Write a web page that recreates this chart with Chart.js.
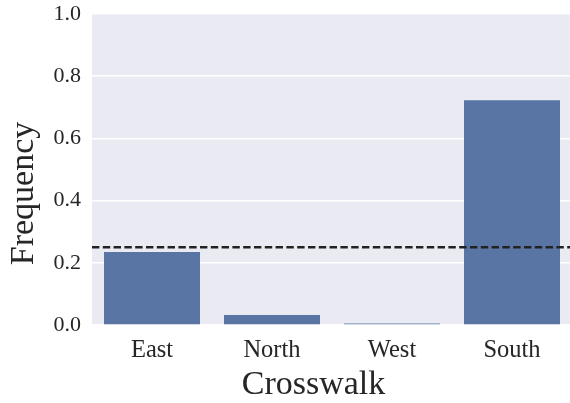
<!DOCTYPE html>
<html>
<head>
<meta charset="utf-8">
<script src="https://cdn.jsdelivr.net/npm/chart.js@4"></script>
<style>
  html, body { margin: 0; padding: 0; background: #ffffff; overflow: hidden; }
  #wrap { width: 570px; height: 403px; overflow: hidden; position: relative; }
  #chart { display: block; }
</style>
</head>
<body>
<div id="wrap"><canvas id="chart" width="572" height="403"></canvas></div>
<script>
// Share of choices per crosswalk, with the chance level (1 of 4) as a reference
const crosswalks = ['East', 'North', 'West', 'South'];
const frequency = [0.235, 0.032, 0.005, 0.723];
const chanceLevel = 0.25;
const yTicks = [0.0, 0.2, 0.4, 0.6, 0.8, 1.0];
const xTitle = 'Crosswalk';
const yTitle = 'Frequency';

const SERIF = '"Liberation Serif", "Times New Roman", serif';
const TEXT = '#262626';

// Dashed horizontal reference line across the plot area
const chanceLine = {
  id: 'chanceLine',
  afterDatasetsDraw(chart) {
    const { ctx, chartArea, scales } = chart;
    const y = scales.y.getPixelForValue(chanceLevel);
    ctx.save();
    ctx.strokeStyle = '#222222';
    ctx.lineWidth = 2.5;
    ctx.setLineDash([7.4, 3.4]);
    ctx.beginPath();
    ctx.moveTo(chartArea.left, y);
    ctx.lineTo(chartArea.right, y);
    ctx.stroke();
    ctx.restore();
  }
};

// Axis titles
const axisTitles = {
  id: 'axisTitles',
  afterDraw(chart) {
    const { ctx, chartArea } = chart;
    ctx.save();
    ctx.fillStyle = TEXT;
    ctx.font = '34px ' + SERIF;
    ctx.textAlign = 'center';
    ctx.textBaseline = 'middle';
    ctx.fillText(xTitle, chartArea.left + 221.5, chartArea.bottom + 60.5);
    ctx.translate(24, (chartArea.top + chartArea.bottom) / 2 + 24);
    ctx.rotate(-Math.PI / 2);
    ctx.fillText(yTitle, 0, 0);
    ctx.restore();
  }
};

// Plot background
const plotBackground = {
  id: 'plotBackground',
  beforeDraw(chart) {
    const { ctx, chartArea } = chart;
    ctx.save();
    ctx.fillStyle = '#EAEAF2';
    ctx.fillRect(chartArea.left, chartArea.top, chartArea.right - chartArea.left, chartArea.bottom - chartArea.top);
    ctx.restore();
  }
};

new Chart(document.getElementById('chart'), {
  type: 'bar',
  data: {
    labels: crosswalks,
    datasets: [{
      data: frequency,
      backgroundColor: '#5875A4',
      borderWidth: 0,
      categoryPercentage: 0.8,
      barPercentage: 1.0
    }]
  },
  options: {
    responsive: false,
    animation: false,
    devicePixelRatio: 1,
    layout: { padding: { top: 14, left: 0, right: 0, bottom: 0 } },
    plugins: { legend: { display: false }, tooltip: { enabled: false } },
    scales: {
      x: {
        grid: { display: false, drawTicks: false },
        border: { display: false },
        ticks: {
          color: TEXT,
          font: { family: SERIF, size: 24.5 },
          padding: 11,
          maxRotation: 0
        },
        afterFit(scale) {
          scale.height = 78;
          scale.paddingLeft = 0;
          scale.paddingRight = 0;
        }
      },
      y: {
        min: 0,
        max: 1,
        afterBuildTicks(scale) { scale.ticks = yTicks.map(v => ({ value: v })); },
        grid: { color: '#FFFFFF', lineWidth: 1.5, drawTicks: false },
        border: { display: false },
        ticks: {
          color: TEXT,
          font: { family: SERIF, size: 22 },
          padding: 11,
          callback: v => Number(v).toFixed(1)
        },
        afterFit(scale) {
          scale.width = 92;
          scale.paddingTop = 0;
          scale.paddingBottom = 0;
        }
      }
    }
  },
  plugins: [plotBackground, chanceLine, axisTitles]
});
</script>
</body>
</html>
